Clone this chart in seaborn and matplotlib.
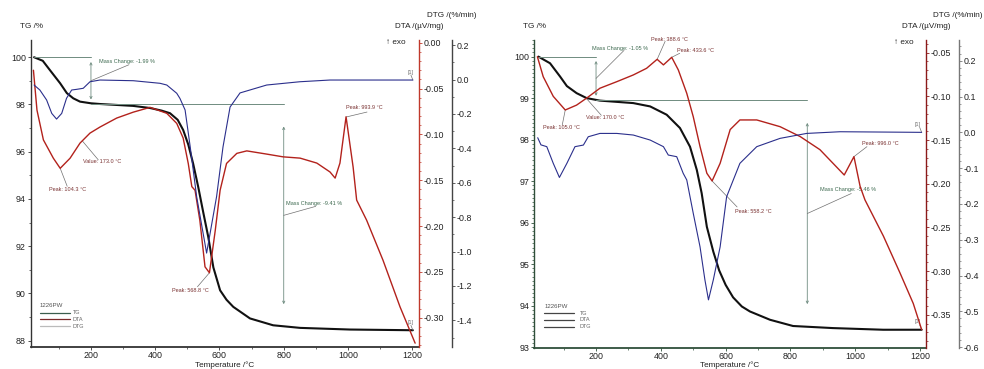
import matplotlib
matplotlib.use("Agg")
import matplotlib.pyplot as plt
from matplotlib.ticker import MultipleLocator, FormatStrFormatter
import numpy as np
import pandas as pd
import seaborn as sns

# ---------------- sample, left panel ----------------
t_tg_a = [23, 50, 72, 88, 104, 125, 145, 166, 200, 228, 280, 331, 384, 420, 446, 470, 487,
          503, 518, 534, 550, 565, 581, 602, 622, 643, 695, 767, 851, 1006, 1202]
tg_a = [100.0, 99.85, 99.46, 99.18, 98.9, 98.48, 98.26, 98.12, 98.05, 98.02, 97.98, 97.94,
        97.85, 97.74, 97.63, 97.35, 96.92, 96.3, 95.5, 94.5, 93.4, 92.4, 91.1, 90.13, 89.73,
        89.43, 88.94, 88.65, 88.54, 88.47, 88.44]

t_dta_a = [21, 32, 52, 83, 104.3, 135, 166, 197, 228, 280, 332, 384, 436, 467, 487, 503, 514,
           524, 539, 555, 568.8, 587, 602, 622, 654, 685, 747, 798, 851, 903, 944, 960, 975,
           994, 1016, 1027, 1058, 1109, 1162, 1209]
dta_a = [-0.030, -0.0735, -0.106, -0.126, -0.137, -0.126, -0.1095, -0.0986, -0.092, -0.0822,
         -0.0757, -0.0705, -0.077, -0.088, -0.104, -0.132, -0.157, -0.161, -0.194, -0.2445,
         -0.251, -0.2045, -0.161, -0.1317, -0.1207, -0.118, -0.1215, -0.1245, -0.1259,
         -0.1313, -0.141, -0.1477, -0.1313, -0.0808, -0.1357, -0.1717, -0.1936, -0.2373,
         -0.2882, -0.3278]

t_dtg_a = [23, 41, 62, 78, 93, 109, 124, 140, 156, 176, 197, 228, 332, 415, 436, 467, 477,
           493, 509, 529, 560, 591, 611, 633, 664, 747, 850, 944, 1202]
dtg_a = [-0.032, -0.061, -0.119, -0.197, -0.230, -0.197, -0.109, -0.061, -0.057, -0.051,
         -0.013, -0.003, -0.007, -0.022, -0.032, -0.080, -0.110, -0.177, -0.392, -0.681,
         -1.009, -0.681, -0.392, -0.160, -0.078, -0.032, -0.013, -0.003, -0.003]

step_t_a = [200, 800]
mass_change_a = [-1.99, -9.41]
peaks_a = [104.3, 568.8, 993.9]
value_a = 173.0

# ---------------- sample, right panel ----------------
t_tg_b = [22, 58, 89, 110, 140, 171, 212, 315, 367, 418, 459, 490, 511, 526, 542, 562, 580,
          600, 623, 650, 675, 737, 808, 931, 1086, 1205]
tg_b = [100.0, 99.84, 99.52, 99.29, 99.12, 99.0, 98.94, 98.88, 98.80, 98.60, 98.28, 97.83,
        97.27, 96.71, 95.9, 95.3, 94.85, 94.5, 94.2, 93.98, 93.86, 93.66, 93.51, 93.46,
        93.42, 93.42]

t_dta_b = [19, 37, 68, 105, 140, 171, 212, 264, 315, 356, 388.6, 408, 433.6, 454, 480, 500,
           521, 542, 558.2, 583, 614, 644, 696, 768, 830, 891, 966, 996, 1015, 1030, 1087,
           1138, 1179, 1205]
dta_b = [-0.0546, -0.0775, -0.100, -0.1156, -0.110, -0.102, -0.0907, -0.0832, -0.0755,
         -0.0679, -0.0576, -0.064, -0.0553, -0.0698, -0.0965, -0.1232, -0.1575, -0.188,
         -0.1968, -0.1766, -0.138, -0.127, -0.127, -0.1347, -0.146, -0.161, -0.19, -0.169,
         -0.203, -0.2185, -0.26, -0.302, -0.337, -0.367]

t_dtg_b = [20, 30, 48, 68, 87, 110, 135, 161, 176, 212, 264, 315, 367, 408, 423, 449, 469,
           480, 500, 521, 536, 547, 562, 583, 603, 644, 696, 768, 850, 953, 1205]
dtg_b = [-0.015, -0.035, -0.040, -0.0866, -0.126, -0.0866, -0.040, -0.0355, -0.0123, -0.003,
         -0.003, -0.0075, -0.0215, -0.040, -0.0634, -0.068, -0.1145, -0.133, -0.226, -0.32,
         -0.412, -0.468, -0.412, -0.32, -0.18, -0.0866, -0.040, -0.0168, -0.003, 0.0017, 0.0]

step_t_b = [200, 852]
mass_change_b = [-1.05, -5.46]
peaks_b = [105.0, 388.6, 433.6, 558.2, 996.0]
value_b = 170.0

sample_name = "1226PW"

sns.set_theme(style="ticks")
plt.rcParams["font.family"] = ["Liberation Sans", "DejaVu Sans"]
plt.rcParams["axes.unicode_minus"] = False

C_TG = "#111111"
C_DTA = "#b3221c"
C_DTG = "#2b2f8c"
C_STEP = "#6f8c80"
C_MC = "#3e6a50"
C_PEAK = "#7a3232"

fig = plt.figure(figsize=(9.84, 3.69), dpi=100)


def curve(ax, t, v, color, lw):
    df = pd.DataFrame({"T": t, "v": v})
    sns.lineplot(data=df, x="T", y="v", ax=ax, color=color, lw=lw,
                 sort=False, estimator=None, legend=False)
    ax.set_xlabel("")
    ax.set_ylabel("")


def panel(rect, xlim, lims, data, steps, notes, style):
    ax = fig.add_axes(rect)
    ax2 = ax.twinx()
    ax3 = ax.twinx()
    ax3.spines["right"].set_position(("axes", style["dtg_pos"]))
    for a in (ax2, ax3):
        for s in ("top", "left", "bottom"):
            a.spines[s].set_visible(False)
    ax.spines["top"].set_visible(False)
    ax.spines["right"].set_visible(False)

    (t_tg, tg), (t_dta, dta), (t_dtg, dtg) = data
    curve(ax3, t_dtg, dtg, C_DTG, 0.8)
    curve(ax2, t_dta, dta, C_DTA, 1.0)
    curve(ax, t_tg, tg, C_TG, 1.5)

    ax.set_xlim(*xlim)
    ax.set_ylim(*lims[0])
    ax2.set_ylim(*lims[1])
    ax3.set_ylim(*lims[2])

    ax.xaxis.set_major_locator(MultipleLocator(200))
    ax.xaxis.set_minor_locator(MultipleLocator(100))
    ax.yaxis.set_major_locator(MultipleLocator(style["tg_major"]))
    ax.yaxis.set_minor_locator(MultipleLocator(style["tg_minor"]))
    ax.yaxis.set_major_formatter(FormatStrFormatter("%d"))
    ax2.yaxis.set_major_locator(MultipleLocator(0.05))
    ax2.yaxis.set_minor_locator(MultipleLocator(0.01))
    ax2.yaxis.set_major_formatter(FormatStrFormatter("%.2f"))
    ax3.yaxis.set_major_locator(MultipleLocator(style["dtg_major"]))
    ax3.yaxis.set_minor_locator(MultipleLocator(style["dtg_minor"]))
    ax3.yaxis.set_major_formatter(FormatStrFormatter("%.1f"))

    for a, sc in ((ax, style["tg_col"]), (ax2, style["dta_col"]), (ax3, style["dtg_col"])):
        a.tick_params(axis="y", which="major", length=2.4, width=0.6, color=sc,
                      labelsize=6.4, pad=1.2, labelcolor="#222222")
        a.tick_params(axis="y", which="minor", length=1.3, width=0.5, color=sc)
    ax.tick_params(axis="x", which="major", length=2.2, width=0.6, color=style["tg_col"],
                   labelsize=6.4, pad=0.6, labelcolor="#222222")
    ax.tick_params(axis="x", which="minor", length=1.3, width=0.5, color=style["tg_col"])
    ax.spines["left"].set_color(style["tg_col"])
    ax.spines["bottom"].set_color(style["tg_col"])
    ax.spines["left"].set_linewidth(1.0)
    ax.spines["bottom"].set_linewidth(1.3)
    ax2.spines["right"].set_color(style["dta_col"])
    ax2.spines["right"].set_linewidth(1.0)
    ax3.spines["right"].set_color(style["dtg_col"])
    ax3.spines["right"].set_linewidth(1.0)

    # mass-change steps: level lines and shortened double arrows
    step_t, mass_change = steps
    starts = [t_tg[0]] + step_t[:-1]
    level = 100.0
    for ts, mc, t_from in zip(step_t, mass_change, starts):
        new = level + mc
        ax.plot([t_from, ts], [level, level], color=C_STEP, lw=0.7)
        span = level - new
        ax.annotate("", xy=(ts, level - 0.1 * span), xytext=(ts, new + 0.1 * span),
                    arrowprops=dict(arrowstyle="<->", lw=0.6, color=C_STEP,
                                    mutation_scale=4, shrinkA=0, shrinkB=0))
        level = new

    trans = {"tg": ax.transData, "dta": ax2.transData, "dtg": ax3.transData}
    for label, key, anchor, lead, txt, col in notes:
        ax.annotate("", xy=anchor, xycoords=trans[key], xytext=lead,
                    textcoords="offset pixels",
                    arrowprops=dict(arrowstyle="-", lw=0.5, color="#707070",
                                    shrinkA=0, shrinkB=0))
        ax.annotate(label, xy=anchor, xycoords=trans[key], xytext=txt,
                    textcoords="offset pixels", fontsize=4.0, color=col,
                    ha="left", va="center")

    # legend block
    lx0, lx1, ltx, ly = style["leg"]
    ax.text(lx0, ly[0], sample_name, transform=ax.transAxes, fontsize=4.4,
            color="#555555", ha="left", va="center")
    for name, c, y in zip(["TG", "DTA", "DTG"], style["leg_cols"], ly[1:]):
        ax.plot([lx0, lx1], [y, y], transform=ax.transAxes, color=c, lw=0.9)
        ax.text(ltx, y, name, transform=ax.transAxes, fontsize=4.0, color="#666666",
                ha="left", va="center")
    return ax, ax2, ax3


# ---------- left panel ----------
notes_a = [
    (f"Mass Change: {mass_change_a[0]:.2f} %", "tg", (step_t_a[0], 100 + mass_change_a[0] / 2),
     (38, 16), (8, 19), C_MC),
    (f"Mass Change: {mass_change_a[1]:.2f} %", "tg",
     (step_t_a[1], 100 + mass_change_a[0] + mass_change_a[1] / 2), (32, 9), (2, 12), C_MC),
    (f"Value: {value_a:.1f} °C", "dta", (value_a, np.interp(value_a, t_dta_a, dta_a)),
     (16, -19), (1, -21), C_PEAK),
    (f"Peak: {peaks_a[0]:.1f} °C", "dta", (peaks_a[0], np.interp(peaks_a[0], t_dta_a, dta_a)),
     (7, -18), (-11, -21), C_PEAK),
    (f"Peak: {peaks_a[1]:.1f} °C", "dta", (peaks_a[1], np.interp(peaks_a[1], t_dta_a, dta_a)),
     (-12, -14), (-37, -18), C_PEAK),
    (f"Peak: {peaks_a[2]:.1f} °C", "dta", (peaks_a[2], np.interp(peaks_a[2], t_dta_a, dta_a)),
     (21, 5), (0, 10), C_PEAK),
    ("[1]", "dtg", (t_dtg_a[-1], dtg_a[-1]), (-2, 5), (-5, 8), "#777777"),
    ("[1]", "tg", (t_tg_a[-1], tg_a[-1]), (-2, 5), (-5, 8), "#777777"),
]
style_a = dict(dtg_pos=1.085, tg_major=2, tg_minor=1, dtg_major=0.2,
               dtg_minor=0.1, tg_col="#333333", dta_col="#c0392b", dtg_col="#444444",
               leg=(0.023, 0.100, 0.108, [0.134, 0.112, 0.090, 0.068]),
               leg_cols=["#3b5e4e", "#7a2a2a", "#bbbbbb"])
panel([0.0315, 0.0596, 0.3943, 0.832], (13.4, 1221),
      [(87.73, 100.73), (-0.332, 0.003), (-1.555, 0.2297)],
      [(t_tg_a, tg_a), (t_dta_a, dta_a), (t_dtg_a, dtg_a)],
      (step_t_a, mass_change_a), notes_a, style_a)

# ---------- right panel ----------
notes_b = [
    (f"Mass Change: {mass_change_b[0]:.2f} %", "tg", (step_t_b[0], 100 + mass_change_b[0] / 2),
     (28, 28), (-4, 30), C_MC),
    (f"Mass Change: {mass_change_b[1]:.2f} %", "tg",
     (step_t_b[1], 100 + mass_change_b[0] + mass_change_b[1] / 2), (44, 20), (13, 24), C_MC),
    (f"Value: {value_b:.1f} °C", "dta", (value_b, np.interp(value_b, t_dta_b, dta_b)),
     (15, -17), (0, -19), C_PEAK),
    (f"Peak: {peaks_b[0]:.1f} °C", "dta", (peaks_b[0], np.interp(peaks_b[0], t_dta_b, dta_b)),
     (-3, -15), (-22, -18), C_PEAK),
    (f"Peak: {peaks_b[1]:.1f} °C", "dta", (peaks_b[1], np.interp(peaks_b[1], t_dta_b, dta_b)),
     (8, 18), (-6, 20), C_PEAK),
    (f"Peak: {peaks_b[2]:.1f} °C", "dta", (peaks_b[2], np.interp(peaks_b[2], t_dta_b, dta_b)),
     (8, 4), (5, 7), C_PEAK),
    (f"Peak: {peaks_b[3]:.1f} °C", "dta", (peaks_b[3], np.interp(peaks_b[3], t_dta_b, dta_b)),
     (25, -26), (23, -31), C_PEAK),
    (f"Peak: {peaks_b[4]:.1f} °C", "dta", (peaks_b[4], np.interp(peaks_b[4], t_dta_b, dta_b)),
     (13, 10), (8, 13), C_PEAK),
    ("[1]", "dtg", (t_dtg_b[-1], dtg_b[-1]), (-2, 5), (-7, 8), "#777777"),
    ("[1]", "tg", (t_tg_b[-1], tg_b[-1]), (-2, 5), (-7, 8), "#777777"),
]
style_b = dict(dtg_pos=1.084, tg_major=1, tg_minor=0.1, dtg_major=0.1,
               dtg_minor=0.02, tg_col="#2f4f3a", dta_col="#8b1a1a", dtg_col="#777777",
               leg=(0.026, 0.102, 0.117, [0.134, 0.113, 0.091, 0.069]),
               leg_cols=["#444444", "#444444", "#444444"])
panel([0.5427, 0.0569, 0.3984, 0.8347], (8.6, 1218.5),
      [(92.98, 100.40), (-0.388, -0.0355), (-0.6025, 0.258)],
      [(t_tg_b, tg_b), (t_dta_b, dta_b), (t_dtg_b, dtg_b)],
      (step_t_b, mass_change_b), notes_b, style_b)

# axis titles
lab = dict(fontsize=5.9, color="#222222")
for x_tg, x_dta, x_dtg, x_exo, x_mid in [(0.0203, 0.4258, 0.4593, 0.4126, 0.2287),
                                         (0.5315, 0.9410, 0.9736, 0.9280, 0.7419)]:
    fig.text(x_tg, 0.929, "TG /%", ha="left", va="center", **lab)
    fig.text(x_dta, 0.928, "DTA /(µV/mg)", ha="center", va="center", **lab)
    fig.text(x_dtg, 0.957, "DTG /(%/min)", ha="center", va="center", **lab)
    fig.text(x_exo, 0.884, "↑ exo", ha="right", va="center", **lab)
    fig.text(x_mid, 0.011, "Temperature /°C", ha="center", va="center", **lab)

fig.savefig("out.png", dpi=100, facecolor="white")
